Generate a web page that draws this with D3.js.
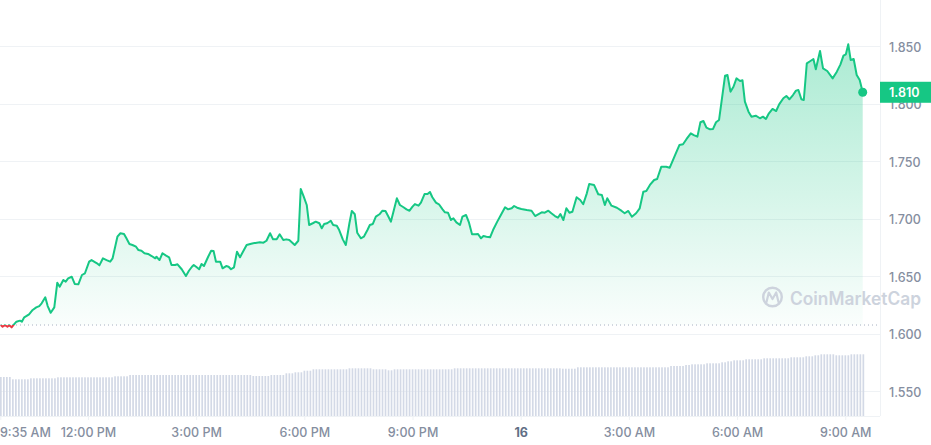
<!DOCTYPE html>
<html><head><meta charset="utf-8">
<script src="https://cdn.jsdelivr.net/npm/d3@7/dist/d3.min.js"></script>
<style>
html,body{margin:0;padding:0;background:#fff;}
svg{display:block;font-family:Inter,"Noto Sans",sans-serif;}
</style></head>
<body>
<svg id="chart" width="931" height="445"></svg>
<script>
// ---------- DATA ----------
const startLabel = "9:35 AM";
const priceMinutes = [0,3,7,11,14,18,22,26,32,35,39,43,47,53,59,64,68,74,78,83,89,94,98,104,108,112,118,123,129,135,140,147,151,160,164,170,176,182,186,194,199,205,209,214,219,225,229,234,239,245,251,257,259,264,269,275,280,284,290,294,301,308,313,318,321,326,330,334,338,345,350,354,358,365,369,375,379,383,388,393,398,402,409,415,420,426,431,437,442,448,453,459,464,470,475,480,485,489,495,
499,504,509,513,519,524,530,534,538,543,549,553,559,563,569,574,580,584,589,593,599,604,610,614,619,624,630,635,640,645,649,654,659,664,670,675,680,685,689,695,699,705,710,714,718,724,729,735,739,744,749,753,758,764,768,774,779,784,790,794,799,803,808,814,819,826,832,839,844,850,854,859,866,875,883,889,894,900,905,911,916,922,927,931,936,941,946,951,958,964,969,975,979,
987,994,1000,1005,1009,1016,1025,1033,1038,1044,1050,1057,1063,1069,1074,1080,1087,1092,1099,1107,1113,1122,1129,1135,1141,1148,1153,1159,1164,1169,1174,1180,1185,1190,1195,1201,1205,1209,1214,1219,1224,1230,1234,1238,1244,1249,1256,1263,1268,1273,1278,1284,1290,1295,1302,1307,1312,1318,1323,1327,1332,1336,1341,1347,1352,1356,1363,1368,1375,1384,1391,1397,1402,1406,1410,1414,1419,1424,1429,1434];
const prices = [1.6078,1.6063,1.6076,1.6063,1.6076,1.6058,1.6084,1.6107,1.6116,1.6107,1.6145,1.6157,1.6171,1.6209,1.6232,1.6243,1.6267,1.6319,1.6243,1.6185,1.6232,1.6446,1.6411,1.6470,1.6455,1.6484,1.6498,1.6435,1.6432,1.6513,1.6528,1.6629,1.6643,1.6615,1.6597,1.6658,1.6643,1.6629,1.6658,1.6846,1.6876,1.6870,1.6832,1.6783,1.6774,1.6759,1.6730,1.6724,1.6702,1.6696,1.6678,1.6658,1.6672,1.6643,1.6702,1.6681,1.6667,1.6600,1.6600,1.6606,1.6563,1.6504,1.6550,1.6585,1.6600,1.6580,1.6563,1.6609,1.6591,1.6672,1.6724,1.6722,1.6629,1.6629,1.6571,1.6591,1.6585,1.6563,1.6580,1.6716,1.6667,1.6707,1.6774,1.6783,1.6789,1.6794,1.6797,1.6794,1.6811,1.6876,1.6823,1.6823,1.6867,1.6817,1.6823,1.6817,1.6794,1.6774,1.6811,
1.7261,1.7194,1.7122,1.6948,1.6963,1.6977,1.6963,1.6919,1.6957,1.6963,1.6985,1.6948,1.6942,1.6904,1.6823,1.6774,1.6963,1.7070,1.7041,1.6881,1.6832,1.6846,1.6904,1.6948,1.6957,1.7020,1.7041,1.7072,1.7070,1.7020,1.6977,1.7078,1.7180,1.7122,1.7102,1.7084,1.7072,1.7107,1.7130,1.7116,1.7142,1.7217,1.7217,1.7235,1.7189,1.7142,1.7128,1.7084,1.7058,1.7055,1.6991,1.7006,1.6971,1.6948,1.7020,1.7035,1.6968,1.6867,1.6867,1.6870,1.6832,1.6852,1.6846,1.6841,1.6904,1.6977,1.7035,1.7102,1.7084,1.7093,1.7113,1.7098,1.7087,1.7078,1.7072,1.7026,1.7041,1.7058,1.7055,1.7072,1.7050,1.7026,1.7011,1.7043,1.6991,1.7093,1.7055,1.7063,1.7189,1.7165,1.7128,1.7223,1.7304,
1.7296,1.7215,1.7209,1.7122,1.7180,1.7116,1.7098,1.7070,1.7050,1.7070,1.7020,1.7050,1.7093,1.7237,1.7243,1.7296,1.7339,1.7348,1.7455,1.7455,1.7446,1.7557,1.7643,1.7650,1.7696,1.7745,1.7730,1.7716,1.7841,1.7852,1.7794,1.7780,1.7783,1.7841,1.7861,1.8093,1.8246,1.8252,1.8107,1.8150,1.8223,1.8200,1.8206,1.8020,1.7933,1.7890,1.7898,1.7876,1.7890,1.7870,1.7919,1.7957,1.7939,1.7997,1.8050,1.8070,1.8041,1.8078,1.8116,1.8122,1.8041,1.8035,1.8354,1.8374,1.8391,1.8302,1.8461,1.8310,1.8287,1.8223,1.8281,1.8345,1.8420,1.8432,1.8519,1.8383,1.8391,1.8252,1.8209,1.8102];
const openPrice = 1.6078;
const lastPriceLabel = "1.810";
// 24h volume bars, one per 5 minutes (millions)
const volumes = [
390,390,390,390, 367,367,367,367,367,367,
377,377,377,377,377,377,377,377,377,
387,387,387,387,387,387,387,387,387,387,387,387,387,387,387,387,387,387,387,
397,397,397,397,397,
410,410,410,410,410,410,410,410,410,410,410,410,410,410,410,410,410,410,410,410,410,410,410,410,410,410,410,410,410,410,410,410,410,410,410,410,410,410,410,410,410,
400,400,400,400,400,400, 410,410,410,410,410, 427,427,427, 437,437,437, 453,453,453,
467,467,467,467,467,467,467,467,467,467,467,467,
477,477,477,477,477,477,477,477, 467,467,467,467,467, 457,457,
467,467,467,467,467,467,467,467,467,467,467,467,467,467,467,467,467,467,467,467,
477,477,477,477,477,477,477,477,477,477,477,477,477,477,477,477,477,477,477,477,477,477,477,477,477,477,477,477,477,477,477,477,477,477,477,477,
473,473,473,473,473,
487,487,487,487,487,487,487,487,487,487,487,487,487,487,487,487,487,487,487,487,487,487,487,487,487,487,487,487,487,487,487,
500,500,500,500,500, 510,510, 517,517,517,517,517, 527,527,527,527,527, 537,537, 547,547,
557,557,557,557, 567,567,567,567,567,567, 577,577,577,577,577,577,577,577,577,
587,587,587,587,587, 597,597,597, 607,607, 617,617,617,617,617, 607,607,607,607,607, 617,617,617,617,617];
const volumeStepMinutes = 5;
const yTicks = [1.55, 1.60, 1.65, 1.70, 1.75, 1.80, 1.85];
const xTickHours = [[0,12],[0,15],[0,18],[0,21],[1,0],[1,3],[1,6],[1,9]];
const xTickLabels = ["12:00 PM","3:00 PM","6:00 PM","9:00 PM","16","3:00 AM","6:00 AM","9:00 AM"];

// ---------- CHART ----------
const W = 931, H = 445;
const plotRight = 880, plotBottom = 416;
const start = new Date(2024, 0, 15, 9, 35);
const tAt = m => d3.timeMinute.offset(start, m);
const pts = priceMinutes.map((m,i)=>({t:tAt(m), p:prices[i]}));

const x = d3.scaleTime().domain([start, tAt(1434)]).range([0.8, 862.7]);
const y = d3.scaleLinear().domain([1.55, 1.85]).range([391.5, 46.5]);
const yv = d3.scaleLinear().domain([0, 640]).range([plotBottom, plotBottom - 64]);

const svg = d3.select("#chart");
const defs = svg.append("defs");
const baseY = y(openPrice);

const gg = defs.append("linearGradient").attr("id","gGreen").attr("gradientUnits","userSpaceOnUse")
  .attr("x1",0).attr("x2",0).attr("y1",y(1.852)).attr("y2",baseY);
gg.append("stop").attr("offset",0).attr("stop-color","#16c784").attr("stop-opacity",0.36);
gg.append("stop").attr("offset",1).attr("stop-color","#16c784").attr("stop-opacity",0.02);
const gr = defs.append("linearGradient").attr("id","gRed").attr("gradientUnits","userSpaceOnUse")
  .attr("x1",0).attr("x2",0).attr("y1",baseY).attr("y2",baseY+10);
gr.append("stop").attr("offset",0).attr("stop-color","#ea3943").attr("stop-opacity",0.05);
gr.append("stop").attr("offset",1).attr("stop-color","#ea3943").attr("stop-opacity",0.2);

defs.append("clipPath").attr("id","cAbove").append("rect").attr("x",-5).attr("y",0).attr("width",900).attr("height",baseY);
defs.append("clipPath").attr("id","cBelow").append("rect").attr("x",-5).attr("y",baseY).attr("width",900).attr("height",100);

// gridlines
svg.append("g").selectAll("line").data(yTicks).join("line")
  .attr("x1",0).attr("x2",plotRight).attr("y1",d=>y(d)).attr("y2",d=>y(d))
  .attr("stroke","#eff2f5").attr("stroke-width",1).attr("shape-rendering","crispEdges");

// volume bars
svg.append("g").selectAll("rect").data(volumes).join("rect")
  .attr("x",(d,i)=>x(tAt(i*volumeStepMinutes))-0.8)
  .attr("width",1.7)
  .attr("y",d=>yv(d))
  .attr("height",d=>plotBottom - yv(d))
  .attr("fill","#d3d9e6");

// frame lines
svg.append("line").attr("x1",plotRight+0.5).attr("x2",plotRight+0.5).attr("y1",0).attr("y2",plotBottom)
  .attr("stroke","#eff2f5");
svg.append("line").attr("x1",0).attr("x2",plotRight).attr("y1",plotBottom+0.5).attr("y2",plotBottom+0.5)
  .attr("stroke","#eff2f5");

// area
const area = d3.area().x(d=>x(d.t)).y0(baseY).y1(d=>y(d.p));
svg.append("path").datum(pts).attr("d",area).attr("fill","url(#gGreen)").attr("clip-path","url(#cAbove)");
svg.append("path").datum(pts).attr("d",area).attr("fill","url(#gRed)").attr("clip-path","url(#cBelow)");

// baseline dotted
svg.append("line").attr("x1",0).attr("x2",878).attr("y1",baseY).attr("y2",baseY)
  .attr("stroke","#a7b1c2").attr("stroke-width",1).attr("stroke-dasharray","1,3");

// line
const line = d3.line().x(d=>x(d.t)).y(d=>y(d.p));
svg.append("path").datum(pts).attr("d",line).attr("fill","none").attr("stroke","#16c784")
  .attr("stroke-width",2).attr("stroke-linejoin","round").attr("clip-path","url(#cAbove)");
svg.append("path").datum(pts).attr("d",line).attr("fill","none").attr("stroke","#ea3943")
  .attr("stroke-width",2).attr("stroke-linejoin","round").attr("clip-path","url(#cBelow)");

// end dot
const last = pts[pts.length-1];
svg.append("circle").attr("cx",x(last.t)).attr("cy",y(last.p)).attr("r",4.5).attr("fill","#16c784");

// watermark
const wm = svg.append("g").attr("fill","none").attr("stroke","#cdd3dd");
wm.append("circle").attr("cx",772.5).attr("cy",297).attr("r",9.3).attr("stroke-width",2.4);
wm.append("path").attr("d","M766.5,302 L768.8,292.5 L772.5,299 L776.2,292.5 L778.5,302").attr("stroke-width",2.2)
  .attr("stroke-linejoin","round").attr("stroke-linecap","round");
svg.append("text").attr("x",790).attr("y",305).text("CoinMarketCap")
  .attr("font-size",18).attr("font-weight",600).attr("fill","#cdd3dd")
  .attr("textLength",131).attr("lengthAdjust","spacingAndGlyphs");

// y axis
const yAxis = d3.axisRight(y).tickValues(yTicks).tickFormat(d3.format(".3f")).tickSize(0).tickPadding(9);
const yg = svg.append("g").attr("transform",`translate(${plotRight},0)`).call(yAxis);
yg.select(".domain").remove();
yg.selectAll("text").attr("font-size",12.5).attr("font-family","Inter").attr("font-weight",500).attr("fill","#858ea0").attr("dy","0.36em");

// x axis
const xAxis = d3.axisBottom(x).tickValues(xTickHours.map(([d,h])=>new Date(2024,0,15+d,h,0)))
  .tickFormat((d,i)=>xTickLabels[i]).tickSize(4).tickPadding(8);
const xg = svg.append("g").attr("transform",`translate(0,${plotBottom})`).call(xAxis);
xg.select(".domain").remove();
xg.selectAll(".tick line").attr("stroke","#eff2f5");
xg.selectAll("text").attr("font-size",12.5).attr("font-family","Inter").attr("font-weight",500).attr("fill","#858ea0").attr("dy","0.71em")
  .filter((d,i)=>xTickLabels[i]==="16").attr("font-weight",700).attr("fill","#616e85");
// start label
svg.append("line").attr("x1",0.8).attr("x2",0.8).attr("y1",plotBottom).attr("y2",plotBottom+4).attr("stroke","#eff2f5");
svg.append("text").attr("x",0).attr("y",plotBottom+12).attr("dy","0.71em").text(startLabel)
  .attr("font-size",12.5).attr("font-weight",500).attr("fill","#858ea0");

// price badge
svg.append("rect").attr("x",plotRight).attr("y",y(last.p)-10.5).attr("width",W-plotRight).attr("height",21).attr("fill","#16c784");
svg.append("text").attr("x",889).attr("y",y(last.p)).attr("dy","0.36em").text(lastPriceLabel)
  .attr("font-size",12.5).attr("font-weight",600).attr("fill","#fff");
</script>
</body></html>
